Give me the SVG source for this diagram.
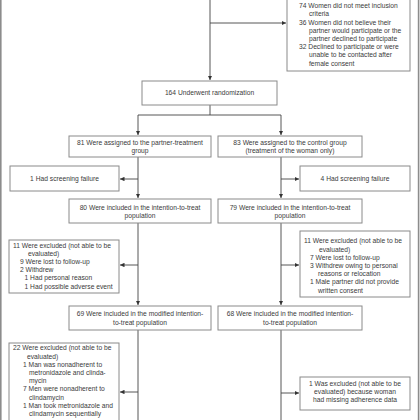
<svg xmlns="http://www.w3.org/2000/svg" width="420" height="420" viewBox="0 0 420 420">
<style>
.box{fill:#fff;stroke:#8a8a8a;stroke-width:1}
.t{font-family:"Liberation Sans",Arial,sans-serif;font-size:6.7px;fill:#3a3a3a}
.c{text-anchor:middle}
.ln{fill:none;stroke:#444;stroke-width:0.9}
.frame{stroke:#8c8c8c;stroke-width:1.6}
</style>
<defs>
<marker id="ah" viewBox="0 0 6 6" refX="6" refY="3" markerWidth="4.5" markerHeight="4.5" orient="auto" markerUnits="userSpaceOnUse">
<path d="M0,0 L6,3 L0,6 Z" fill="#333"/>
</marker>
</defs>
<rect width="420" height="420" fill="#fff"/>
<line class="frame" x1="0.8" y1="0" x2="0.8" y2="420"/>
<line class="frame" x1="418.6" y1="0" x2="418.6" y2="420"/>

<g id="connectors">
<path class="ln" d="M210,0 V80" marker-end="url(#ah)"/>
<path class="ln" d="M210,23 H286" marker-end="url(#ah)"/>
<path class="ln" d="M210,105 V115 M138,115 H281"/>
<path class="ln" d="M138,115 V135" marker-end="url(#ah)"/>
<path class="ln" d="M281,115 V135" marker-end="url(#ah)"/>
<path class="ln" d="M138,157 V198" marker-end="url(#ah)"/>
<path class="ln" d="M138,179 H120" marker-end="url(#ah)"/>
<path class="ln" d="M281,157 V198" marker-end="url(#ah)"/>
<path class="ln" d="M281,179 H299" marker-end="url(#ah)"/>
<path class="ln" d="M138,223 V305" marker-end="url(#ah)"/>
<path class="ln" d="M138,265 H120" marker-end="url(#ah)"/>
<path class="ln" d="M281,223 V305" marker-end="url(#ah)"/>
<path class="ln" d="M281,265 H299" marker-end="url(#ah)"/>
<path class="ln" d="M138,330 V420"/>
<path class="ln" d="M138,392 H120" marker-end="url(#ah)"/>
<path class="ln" d="M281,330 V420"/>
<path class="ln" d="M281,393 H299" marker-end="url(#ah)"/>
</g>

<g id="excluded-top">
<rect class="box" x="287" y="-5" width="123" height="76"/>
<text class="t" x="299" y="8.2">74 Women did not meet inclusion</text>
<text class="t" x="309" y="16.4">criteria</text>
<text class="t" x="299" y="24.6">36 Women did not believe their</text>
<text class="t" x="309" y="32.8">partner would participate or the</text>
<text class="t" x="309" y="41">partner declined to participate</text>
<text class="t" x="299" y="49.2">32 Declined to participate or were</text>
<text class="t" x="309" y="57.4">unable to be contacted after</text>
<text class="t" x="309" y="65.6">female consent</text>
</g>

<g id="randomization">
<rect class="box" x="142" y="81" width="135" height="24"/>
<text class="t c" x="209.5" y="95.3">164 Underwent randomization</text>
</g>

<g id="partner-group">
<rect class="box" x="69" y="136" width="142" height="21"/>
<text class="t c" x="140" y="144.5">81 Were assigned to the partner-treatment</text>
<text class="t c" x="140" y="152.6">group</text>
</g>
<g id="control-group">
<rect class="box" x="218" y="136" width="144" height="21"/>
<text class="t c" x="290" y="144.5">83 Were assigned to the control group</text>
<text class="t c" x="290" y="152.6">(treatment of the woman only)</text>
</g>

<g id="screen-left">
<rect class="box" x="10" y="166" width="109" height="25"/>
<text class="t c" x="64.5" y="181.3">1 Had screening failure</text>
</g>
<g id="screen-right">
<rect class="box" x="300" y="166" width="110" height="25"/>
<text class="t c" x="355" y="181.3">4 Had screening failure</text>
</g>

<g id="itt-left">
<rect class="box" x="69" y="199" width="142" height="24"/>
<text class="t c" x="140" y="209.5">80 Were included in the intention-to-treat</text>
<text class="t c" x="140" y="217.7">population</text>
</g>
<g id="itt-right">
<rect class="box" x="218" y="199" width="144" height="24"/>
<text class="t c" x="290" y="209.5">79 Were included in the intention-to-treat</text>
<text class="t c" x="290" y="217.7">population</text>
</g>

<g id="excl-left">
<rect class="box" x="9" y="240" width="110" height="53"/>
<text class="t" x="13" y="247.5">11 Were excluded (not able to be</text>
<text class="t" x="28" y="255.7">evaluated)</text>
<text class="t" x="20" y="263.9">9 Were lost to follow-up</text>
<text class="t" x="20" y="272.1">2 Withdrew</text>
<text class="t" x="24.5" y="280.3">1 Had personal reason</text>
<text class="t" x="24.5" y="288.5">1 Had possible adverse event</text>
</g>
<g id="excl-right">
<rect class="box" x="300" y="231" width="110" height="66"/>
<text class="t" x="304" y="243.3">11 Were excluded (not able to be</text>
<text class="t" x="319" y="251.5">evaluated)</text>
<text class="t" x="310" y="259.7">7 Were lost to follow-up</text>
<text class="t" x="310" y="267.9">3 Withdrew owing to personal</text>
<text class="t" x="318" y="276.1">reasons or relocation</text>
<text class="t" x="310" y="284.3">1 Male partner did not provide</text>
<text class="t" x="318" y="292.5">written consent</text>
</g>

<g id="mitt-left">
<rect class="box" x="69" y="306" width="142" height="24"/>
<text class="t c" x="140" y="316.3">69 Were included in the modified intention-</text>
<text class="t c" x="140" y="324.5">to-treat population</text>
</g>
<g id="mitt-right">
<rect class="box" x="218" y="306" width="144" height="24"/>
<text class="t c" x="290" y="316.3">68 Were included in the modified intention-</text>
<text class="t c" x="290" y="324.5">to-treat population</text>
</g>

<g id="excl2-left">
<rect class="box" x="9" y="343" width="110" height="90"/>
<text class="t" x="13" y="350.3">22 Were excluded (not able to be</text>
<text class="t" x="27" y="358.5">evaluated)</text>
<text class="t" x="23" y="366.7">1 Man was nonadherent to</text>
<text class="t" x="29" y="374.9">metronidazole and clinda-</text>
<text class="t" x="29" y="383.1">mycin</text>
<text class="t" x="23" y="391.3">7 Men were nonadherent to</text>
<text class="t" x="29" y="399.5">clindamycin</text>
<text class="t" x="23" y="407.7">1 Man took metronidazole and</text>
<text class="t" x="29" y="415.9">clindamycin sequentially</text>
</g>
<g id="excl2-right">
<rect class="box" x="300" y="377" width="110" height="33"/>
<text class="t c" x="355" y="385.5">1 Was excluded (not able to be</text>
<text class="t c" x="355" y="393.7">evaluated) because woman</text>
<text class="t c" x="355" y="401.9">had missing adherence data</text>
</g>
</svg>
